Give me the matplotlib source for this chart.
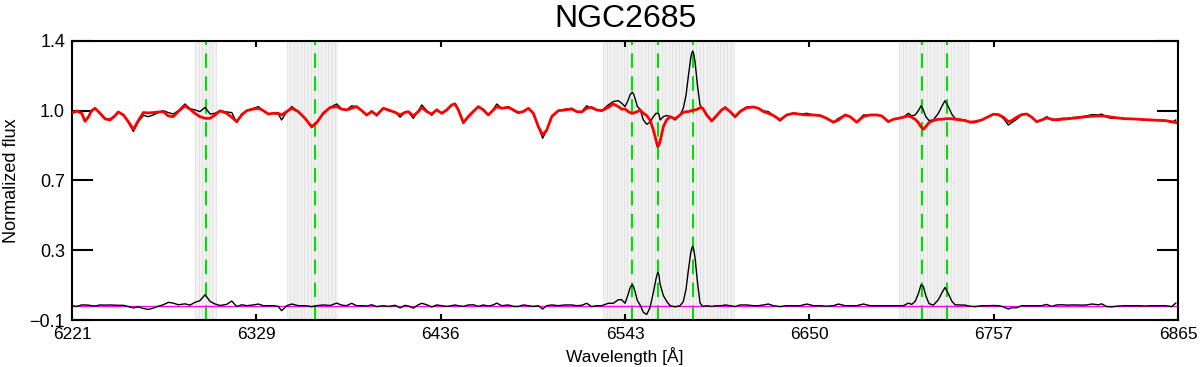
import numpy as np
import matplotlib
matplotlib.use('Agg')
import matplotlib.pyplot as plt

plt.rcParams['font.family'] = ['Liberation Sans', 'DejaVu Sans']

# spectrum (wavelength in A, normalized flux)
wave = [6221.2, 6224.1, 6227.0, 6229.0, 6230.9, 6232.8, 6234.8, 6237.7, 6240.6, 6243.5,
        6246.4, 6248.3, 6251.3, 6254.2, 6257.1, 6260.0, 6262.9, 6265.8, 6268.7, 6271.6,
        6274.5, 6277.4, 6280.3, 6283.2, 6287.1, 6290.0, 6292.9, 6295.8, 6298.8, 6301.7,
        6304.6, 6307.5, 6311.3, 6314.3, 6317.2, 6320.1, 6323.0, 6326.9, 6329.8, 6332.7,
        6335.6, 6338.5, 6341.4, 6343.3, 6346.3, 6349.2, 6353.0, 6356.9, 6360.8, 6363.7,
        6367.6, 6371.5, 6375.3, 6378.2,
        6381.1, 6384.0, 6386.9, 6389.9, 6392.8, 6395.7, 6398.6, 6402.5, 6405.4, 6409.3,
        6412.2, 6415.1, 6417.0, 6419.9, 6422.8, 6424.8, 6427.7, 6430.6, 6433.5, 6436.4,
        6439.3, 6442.2, 6444.1, 6446.1, 6449.0, 6451.9, 6454.8, 6457.7, 6460.6, 6463.5,
        6466.4, 6468.4, 6471.3, 6475.2, 6478.1, 6481.0, 6483.9, 6486.8, 6489.7, 6492.6,
        6495.1, 6497.5, 6500.4, 6504.2, 6508.1, 6512.0, 6514.9, 6517.8, 6520.7, 6523.6,
        6526.5, 6529.4, 6533.3, 6536.2, 6539.1, 6541.1,
        6543.0, 6544.9, 6545.9, 6546.7, 6547.3, 6548.0, 6548.8, 6550.2, 6551.7, 6553.7,
        6555.6, 6557.5, 6559.5, 6561.0, 6561.5, 6562.0, 6562.7, 6563.4, 6565.3, 6567.2,
        6569.2, 6572.1, 6575.0, 6576.9, 6578.5, 6579.8, 6581.2, 6581.8, 6582.4, 6583.0,
        6583.7, 6585.1, 6586.6, 6588.2, 6590.5, 6593.4,
        6596.3, 6599.2, 6601.2, 6604.1, 6607.0, 6609.9, 6613.8, 6617.6, 6620.5, 6623.5,
        6626.4, 6629.3, 6633.2, 6637.0, 6640.9, 6644.8, 6648.7, 6652.6, 6656.4, 6660.3,
        6664.2, 6667.1, 6671.0, 6673.9, 6677.7, 6681.6, 6685.5, 6689.4,
        6692.3, 6696.1, 6699.1, 6702.0, 6704.9, 6707.8, 6709.7, 6711.7, 6713.6, 6715.1,
        6716.5, 6717.9, 6719.8, 6722.3, 6725.2, 6727.2, 6729.1, 6731.0, 6733.0, 6734.9,
        6737.8, 6740.7, 6743.6, 6746.5, 6750.4, 6754.3, 6757.2, 6760.1, 6763.0, 6765.9,
        6767.9, 6770.8, 6773.7, 6776.6, 6779.5, 6782.4, 6785.3, 6788.2, 6791.1, 6794.0,
        6797.0, 6799.9, 6802.8, 6805.7, 6808.6, 6811.5, 6814.4, 6818.3, 6820.2, 6823.1,
        6826.0, 6829.9, 6833.8, 6837.7, 6841.5, 6845.4, 6849.3, 6853.2, 6857.0, 6860.9,
        6863.3]

flux = [1.011, 1.020, 1.015, 0.972, 0.993, 1.025, 1.036, 1.015, 0.984, 0.979,
        1.000, 1.020, 1.004, 0.961, 0.913, 0.966, 1.000, 0.993, 1.002, 1.015,
        1.025, 1.015, 1.007, 1.025, 1.061, 1.036, 1.029, 1.020, 1.043, 1.007,
        1.011, 1.025, 1.018, 1.015, 0.961, 1.007, 1.025, 1.038, 1.047, 1.025,
        1.007, 1.011, 1.007, 0.975, 1.020, 1.047, 1.020, 0.984, 0.934, 0.961,
        1.015, 1.043, 1.061, 1.036,
        1.029, 1.051, 1.047, 1.025, 1.000, 1.025, 0.997, 1.038, 1.025, 1.018,
        0.990, 1.018, 1.018, 0.984, 1.025, 1.056, 1.025, 1.000, 1.033, 1.011,
        1.025, 1.056, 1.065, 1.029, 0.957, 0.997, 1.025, 1.043, 1.033, 1.000,
        1.033, 1.061, 1.038, 1.047, 1.025, 1.011, 1.024, 1.038, 1.007, 0.939,
        0.877, 0.921, 0.997, 1.025, 1.033, 1.038, 1.020, 1.020, 1.051, 1.038,
        1.029, 1.025, 1.056, 1.074, 1.079, 1.065,
        1.047, 1.083, 1.110, 1.120, 1.124, 1.113, 1.092, 1.047, 1.034, 0.975,
        0.952, 0.963, 0.993, 1.011, 1.010, 1.011, 1.006, 0.975, 0.993, 0.999,
        0.993, 0.975, 1.002, 1.038, 1.110, 1.208, 1.307, 1.335, 1.346, 1.328,
        1.289, 1.163, 1.056, 1.034, 1.002, 0.966,
        0.999, 1.029, 1.045, 1.020, 0.988, 1.024, 1.045, 1.045, 1.038, 1.024,
        1.020, 0.999, 0.970, 1.002, 1.011, 1.006, 1.011, 1.002, 0.999, 0.981,
        0.963, 0.984, 1.002, 0.993, 0.963, 1.002, 1.002, 1.002,
        0.997, 0.966, 0.979, 0.984, 0.990, 1.011, 0.997, 1.002, 1.025, 1.051,
        1.029, 0.993, 0.972, 0.975, 1.011, 1.047, 1.079, 1.047, 1.007, 0.984,
        0.979, 0.975, 0.961, 0.961, 0.975, 0.993, 1.007, 1.004, 0.984, 0.948,
        0.961, 0.979, 1.004, 1.007, 0.990, 0.966, 0.975, 0.993, 0.975, 0.979,
        0.984, 0.984, 0.988, 0.990, 0.993, 0.997, 1.004, 1.002, 1.007, 0.990,
        0.984, 0.984, 0.982, 0.981, 0.979, 0.975, 0.975, 0.973, 0.972, 0.961,
        0.975]

model = [1.011, 1.024, 1.011, 0.968, 0.990, 1.025, 1.038, 1.011, 0.981, 0.975,
         0.997, 1.018, 1.002, 0.966, 0.925, 0.972, 1.015, 1.013, 1.015, 1.018,
         1.020, 0.997, 0.993, 1.020, 1.051, 1.033, 1.011, 0.993, 0.984, 0.984,
         1.002, 1.024, 1.011, 0.990, 0.966, 1.002, 1.025, 1.034, 1.038, 1.025,
         1.007, 1.011, 1.011, 1.002, 1.020, 1.038, 1.020, 0.984, 0.939, 0.961,
         1.011, 1.042, 1.047, 1.033,
         1.029, 1.038, 1.047, 1.025, 1.002, 1.020, 1.002, 1.038, 1.029, 1.016,
         1.002, 1.016, 1.020, 0.997, 1.020, 1.043, 1.020, 1.007, 1.029, 1.011,
         1.029, 1.056, 1.061, 1.029, 0.961, 0.993, 1.020, 1.047, 1.029, 1.002,
         1.029, 1.047, 1.038, 1.043, 1.029, 1.015, 1.020, 1.038, 1.011, 0.939,
         0.895, 0.921, 0.993, 1.025, 1.029, 1.034, 1.020, 1.018, 1.038, 1.043,
         1.029, 1.025, 1.043, 1.061, 1.047, 1.033,
         1.034, 1.020, 1.015, 1.012, 1.011, 1.013, 1.015, 1.020, 1.029, 1.011,
         0.999, 0.975, 0.921, 0.868, 0.848, 0.832, 0.840, 0.859, 0.939, 0.975,
         0.993, 0.981, 1.002, 1.016, 1.020, 1.020, 1.024, 1.026, 1.027, 1.028,
         1.029, 1.033, 1.041, 1.038, 1.002, 0.970,
         0.999, 1.029, 1.041, 1.020, 0.993, 1.020, 1.041, 1.045, 1.038, 1.020,
         1.011, 0.999, 0.975, 1.002, 1.011, 1.006, 1.002, 1.002, 0.999, 0.984,
         0.963, 0.975, 1.002, 0.993, 0.963, 0.993, 1.002, 1.002,
         0.997, 0.966, 0.979, 0.984, 0.990, 0.997, 0.990, 0.979, 0.961, 0.939,
         0.925, 0.939, 0.961, 0.972, 0.979, 0.979, 0.981, 0.982, 0.982, 0.979,
         0.975, 0.972, 0.964, 0.966, 0.975, 0.993, 1.006, 1.004, 0.990, 0.966,
         0.972, 0.990, 1.004, 1.007, 0.990, 0.966, 0.975, 0.986, 0.979, 0.975,
         0.979, 0.981, 0.984, 0.986, 0.990, 0.993, 0.995, 0.997, 0.997, 0.995,
         0.990, 0.986, 0.982, 0.981, 0.979, 0.977, 0.975, 0.973, 0.972, 0.966,
         0.961]

resid_level = -0.023   # zero line of the residuals

# masked wavelength windows and emission lines
mask_lo = [6293.1, 6346.4, 6530.4, 6702.5]
mask_hi = [6305.5, 6375.9, 6606.6, 6743.6]
lines = [6299.5, 6362.9, 6547.3, 6562.0, 6582.7, 6715.9, 6730.3]

xlim = (6221.4, 6864.6)
ylim = (-0.1, 1.4)
xtick_labels = ['6221', '6329', '6436', '6543', '6650', '6757', '6865']
ytick_labels = ['\u22120.1', '0.3', '0.7', '1.0', '1.4']

wave = np.array(wave)
flux = np.array(flux)
model = np.array(model)
resid = flux - model + resid_level

fig = plt.figure(figsize=(12, 3.67), dpi=100)
ax = fig.add_axes([0.06, 0.128, 0.9217, 0.7605])

for lo, hi in zip(mask_lo, mask_hi):
    ax.axvspan(lo, hi, color='#f1f1f1', lw=0, zorder=0)
    ax.vlines(np.arange(lo, hi, 2.0), ylim[0], ylim[1], color='#dedede', lw=0.5, zorder=0.5)

for w in lines:
    ax.axvline(w, color='#00e000', lw=1.5, dashes=(7, 4), zorder=1)

ax.plot(wave, flux, color='black', lw=1.0, zorder=2)
ax.plot(wave, model, color='#ff0000', lw=2.0, zorder=3)
ax.axhline(resid_level, color='#ff00ff', lw=1.0, zorder=2)
ax.plot(wave, resid, color='black', lw=1.0, zorder=3)

ax.set_xlim(xlim)
ax.set_ylim(ylim)
ax.set_xticks(np.linspace(xlim[0], xlim[1], len(xtick_labels)))
ax.set_xticklabels(xtick_labels)
ax.set_yticks(np.linspace(ylim[0], ylim[1], len(ytick_labels)))
ax.set_yticklabels(ytick_labels)

ax.tick_params(axis='x', direction='in', top=True, length=4, width=1.5, pad=5, labelsize=12.5)
ax.tick_params(axis='y', direction='in', right=True, length=15, width=1.5, pad=5, labelsize=13)
for s in ax.spines.values():
    s.set_linewidth(1.5)

ax.set_xlabel('Wavelength [Å]', fontsize=12.5)
ax.xaxis.set_label_coords(0.5, -0.096)
ax.set_ylabel('Normalized flux', fontsize=13, labelpad=7)
ax.set_title('NGC2685', fontsize=23, pad=10)

fig.savefig('out.png', dpi=100)
